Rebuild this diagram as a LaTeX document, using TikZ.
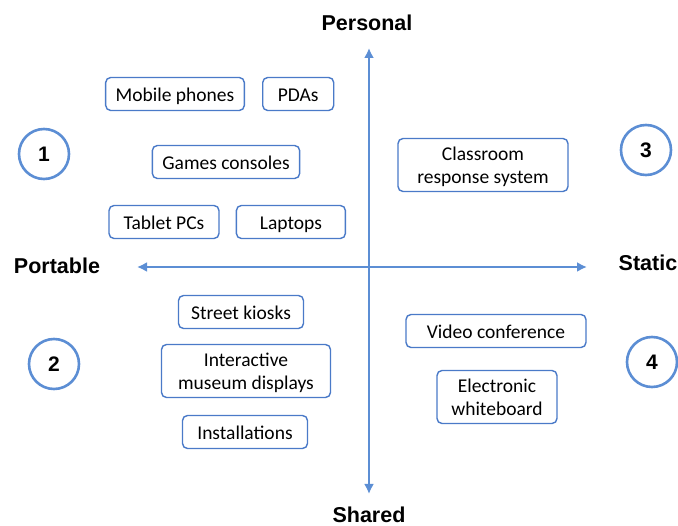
\documentclass[tikz,border=0pt]{standalone}
\usepackage{fontspec}
\setmainfont{Carlito}
\newfontfamily\headfont{Liberation Sans}
\usetikzlibrary{arrows.meta,positioning}
\definecolor{axisblue}{RGB}{92,142,212}
\definecolor{boxblue}{RGB}{74,122,200}

\begin{document}
\begin{tikzpicture}[x=1pt,y=-1pt,semithick]
	  \tikzstyle{device}=[rectangle,rounded corners=5pt,draw=boxblue,line width=1.4pt,fill=white,text=black,align=center,minimum height=33pt,inner xsep=10pt,font=\fontsize{19.5}{23}\selectfont]
	  \tikzstyle{oneline}=[device,text height=17pt,text depth=1pt]
	  \tikzstyle{twoline}=[device,text height=39.5pt,text depth=1.5pt,inner ysep=6pt]
	  \tikzstyle{quadrant}=[circle,draw=axisblue,line width=2.6pt,minimum size=50pt,inner sep=0pt,font=\headfont\bfseries\fontsize{21}{25}\selectfont]
	  \tikzstyle{heading}=[font=\headfont\bfseries\fontsize{21.5}{25}\selectfont]
	  \tikzstyle{axis}=[draw=axisblue,line width=2.8pt,{Latex[length=10pt,width=10pt]}-{Latex[length=10pt,width=10pt]}]

	  \useasboundingbox (0,0) rectangle (678,526);

	  % axes
	  \coordinate (top) at (369,48);
	  \coordinate (bottom) at (369,494);
	  \coordinate (left) at (137,267);
	  \coordinate (right) at (587,267);
	  \draw[axis] (bottom) -- (top);
	  \draw[axis] (left) -- (right);

	  \node[heading] (personal) at (367,23) {Personal};
	  \node[heading,anchor=base] (shared) at (369,523) {Shared};
	  \node[heading] (portable) at (57,266) {Portable};
	  \node[heading] (static) at (648,263) {Static};

	  % quadrant numbers
	  \node[quadrant] (q1) at (44,154) {1};
	  \node[quadrant] (q2) at (54,364) {2};
	  \node[quadrant] (q3) at (646,150) {3};
	  \node[quadrant] (q4) at (652,362) {4};

	  % personal / portable
	  \node[oneline] (mobile) at (175,94) {Mobile phones};
	  \node[oneline,minimum width=71pt] (pda) [right=17pt of mobile] {PDAs};
	  \node[oneline] (games) at (226,162) {Games consoles};
	  \node[oneline,minimum width=110pt] (tablet) at (164,222) {Tablet PCs};
	  \node[oneline,minimum width=109pt] (laptop) [right=16pt of tablet] {Laptops};

	  % personal / static
	  \node[twoline,minimum width=170pt] (clicker) at (483,165) {Classroom\\response system};

	  % shared / portable
	  \node[oneline,minimum width=125pt] (kiosk) at (241,312) {Street kiosks};
	  \node[twoline,minimum width=169pt] (museum) at (246,371) {Interactive\\museum displays};
	  \node[oneline,minimum width=125pt] (install) at (245,432) {Installations};

	  % shared / static
	  \node[oneline,minimum width=180pt] (video) at (496,331) {Video conference};
	  \node[twoline,minimum width=120pt] (board) at (497,397) {Electronic\\whiteboard};
	\end{tikzpicture}
\end{document}
